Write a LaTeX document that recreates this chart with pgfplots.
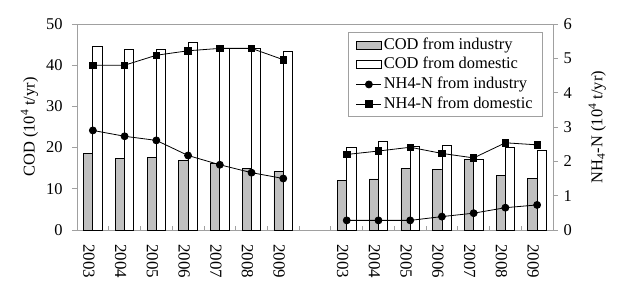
\documentclass[border=0pt]{standalone}
\usepackage{fontspec}
\setmainfont{Liberation Serif}
\usepackage{pgfplots}
\pgfplotsset{compat=1.18}
\definecolor{barg}{RGB}{192,192,192}
\definecolor{axg}{RGB}{160,160,160}
\pgfplotsset{
  boxleg/.style={legend image code/.code={\draw[##1] (0bp,-4bp) rectangle (25bp,4bp);}},
  lineleg/.style={legend image code/.code={\draw[mark repeat=2, mark phase=2, ##1] plot coordinates {(0bp,0bp) (12.5bp,0bp) (25bp,0bp)};}},
  common/.style={scale only axis, width=476bp, height=206bp, xmin=-0.5, xmax=14.5,
    /pgf/number format/assume math mode=true,
    tick label style={font=\fontsize{16.5}{18}\selectfont},
    label style={font=\fontsize{16.5}{18}\selectfont},
    tick align=outside, major tick length=5bp},
}
\begin{document}
\begin{tikzpicture}[font=\fontsize{16.5}{18}\selectfont]
% bars, left axis
\begin{axis}[common, name=ax, ymin=0, ymax=50, ytick={0,10,20,30,40,50}, ytick pos=left,
  axis line style={axg, line width=0.8bp}, ytick style={axg, line width=0.8bp},
  y tick label style={xshift=-6bp},
  xtick={0,1,2,3,4,5,6,8,9,10,11,12,13,14},
  xticklabels={2003,2004,2005,2006,2007,2008,2009,2003,2004,2005,2006,2007,2008,2009},
  xtick pos=bottom, major x tick style={draw=none},
  x tick label style={xshift=-4bp, yshift=-6bp, rotate=-90, anchor=west, font=\fontsize{17}{18}\selectfont},
  ylabel={COD (10\textsuperscript{4} t/yr)}, ylabel shift=1bp,
  ybar=0pt, bar width=9.3bp]
\addplot[fill=barg, draw=black, line width=0.8bp] coordinates {
  (0,18.6) (1,17.4) (2,17.6) (3,16.9) (4,16.2) (5,15.0) (6,14.2)
  (8,12.1) (9,12.4) (10,15.0) (11,14.7) (12,17.2) (13,13.3) (14,12.5)};
\addplot[fill=white, draw=black, line width=0.8bp] coordinates {
  (0,44.5) (1,43.9) (2,43.9) (3,45.5) (4,44.1) (5,44.1) (6,43.3)
  (8,20.0) (9,21.6) (10,20.2) (11,20.5) (12,17.2) (13,20.0) (14,19.2)};
\end{axis}
% inside ticks at category boundaries
\begin{axis}[common, at={(ax.south west)}, anchor=south west, ymin=0, ymax=1,
  hide y axis, axis x line*=bottom, axis line style={draw=none},
  xtick={-0.5,0.5,...,14.5}, xticklabels={}, tick align=inside, major tick length=4bp,
  xtick style={axg, line width=0.8bp}]
\end{axis}
% lines, right axis
\begin{axis}[common, at={(ax.south west)}, anchor=south west, ymin=0, ymax=6,
  ytick={0,1,2,3,4,5,6}, axis y line*=right, axis x line=none,
  axis line style={axg, line width=0.8bp}, ytick style={axg, line width=0.8bp},
  y tick label style={xshift=2bp},
  ylabel={NH\textsubscript{4}-N (10\textsuperscript{4} t/yr)}, ylabel shift=10bp,
  legend style={at={(0.979,0.961)}, anchor=north east, draw=axg, line width=0.8bp,
    font=\fontsize{16.5}{18}\selectfont, row sep=0pt, inner xsep=8bp, inner ysep=3bp,
    nodes={text height=11.5bp, text depth=3.5bp, inner ysep=2.3bp}},
  legend cell align=left]
\addlegendimage{boxleg, fill=barg, draw=black, line width=0.8bp}
\addlegendentry{COD from industry}
\addlegendimage{boxleg, fill=white, draw=black, line width=0.8bp}
\addlegendentry{COD from domestic}
\addplot[lineleg, black, line width=0.8bp, mark=*, mark size=3.5bp] coordinates {
  (0,2.90) (1,2.73) (2,2.61) (3,2.17) (4,1.90) (5,1.67) (6,1.50)};
\addlegendentry{NH4-N from industry}
\addplot[lineleg, black, line width=0.8bp, mark=square*, mark size=3.2bp] coordinates {
  (0,4.80) (1,4.80) (2,5.09) (3,5.22) (4,5.29) (5,5.29) (6,4.96)};
\addlegendentry{NH4-N from domestic}
\addplot[black, line width=0.8bp, mark=*, mark size=3.5bp, forget plot] coordinates {
  (8,0.28) (9,0.28) (10,0.28) (11,0.39) (12,0.49) (13,0.65) (14,0.73)};
\addplot[black, line width=0.8bp, mark=square*, mark size=3.2bp, forget plot] coordinates {
  (8,2.20) (9,2.30) (10,2.41) (11,2.23) (12,2.10) (13,2.54) (14,2.48)};
\end{axis}
\pgfresetboundingbox
\path ([shift={(-77bp,-63bp)}]ax.south west) rectangle ([shift={(70bp,24bp)}]ax.north east);
\end{tikzpicture}
\end{document}
